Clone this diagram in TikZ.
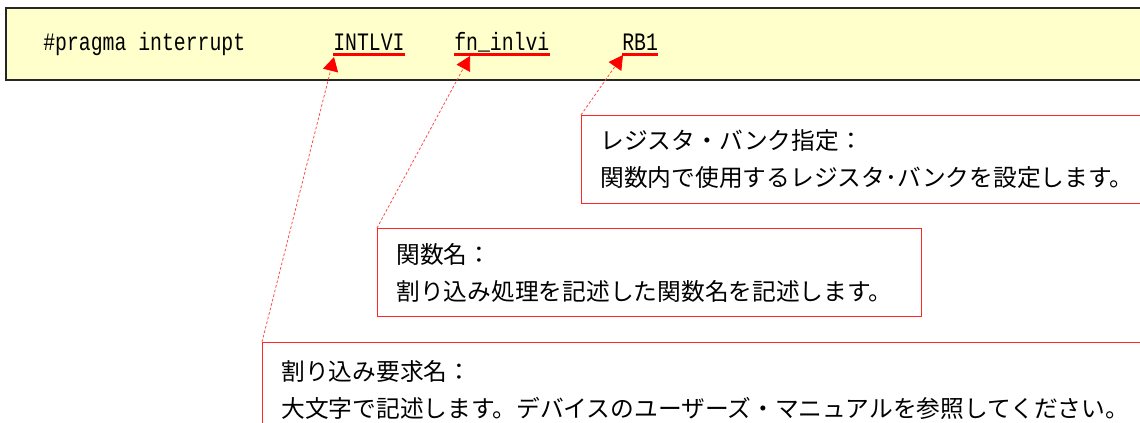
\documentclass[tikz,border=0pt]{standalone}
\usepackage{fontspec}
\usetikzlibrary{arrows.meta}
\newfontfamily\jpfont{Noto Sans CJK JP}
\newfontfamily\codefont[FakeStretch=0.79]{Liberation Mono}
\definecolor{notefill}{HTML}{FFFFCC}

\begin{document}
\begin{tikzpicture}[
    x=0.75pt, y=-0.75pt,
    codeword/.style = { font=\codefont\fontsize{18.8pt}{20pt}\selectfont, anchor=base west, inner sep=0pt },
    callout/.style = { draw=red!85, line width=0.75pt, anchor=north west, align=left, inner xsep=14.25pt,
                       font=\jpfont\fontsize{17.8pt}{27.75pt}\selectfont },
    hiliteline/.style = { red, line width=1.9pt },
    pointer/.style = { red!70, line width=0.6pt, dash pattern=on 2pt off 1.5pt,
                       -{Triangle[length=10.5pt, width=11.5pt, color=red]} },
    ]

    \clip (0,0) rectangle (1140,423);

    % pragma line
    \draw[fill=notefill, draw=black!85, line width=1.6pt] (6,8) rectangle (1160,80);
    \node[codeword] (pragma) at (43,51) {\#pragma interrupt};
    \node[codeword] (intlvi) at (333,51) {INTLVI};
    \node[codeword] (fname) at (454,51) {fn\raisebox{0.07em}{\_}inlvi};
    \node[codeword] (rbank) at (622,51) {RB1};
    \foreach \w in {intlvi, fname, rbank}
      \draw[hiliteline] ([yshift=-2.5pt]\w.base west) -- ([yshift=-2.5pt]\w.base east);

    \coordinate (intlvi tip) at (334,57);
    \coordinate (fname tip) at (470,56);
    \coordinate (rbank tip) at (623,55);

    % notes
    \node[callout, minimum width=434.25pt, minimum height=66pt, text width=405.75pt] (rbnote) at (581,115)
      {レジスタ・バンク指定：\\関数内で使用するレジスタ･バンクを設定します。};
    \node[callout, minimum width=408pt, minimum height=66pt, text width=379.5pt] (fnote) at (377,228)
      {関数名：\\割り込み処理を記述した関数名を記述します。};
    \node[callout, minimum width=673.5pt, minimum height=72pt, text width=645pt] (intnote) at (262,342)
      {割り込み要求名：\\大文字で記述します。デバイスのユーザーズ・マニュアルを参照してください。};

    \draw[pointer] (rbnote.north west) -- (rbank tip);
    \draw[pointer] (fnote.north west) -- (fname tip);
    \draw[pointer] (intnote.north west) -- (intlvi tip);

\end{tikzpicture}
\end{document}
